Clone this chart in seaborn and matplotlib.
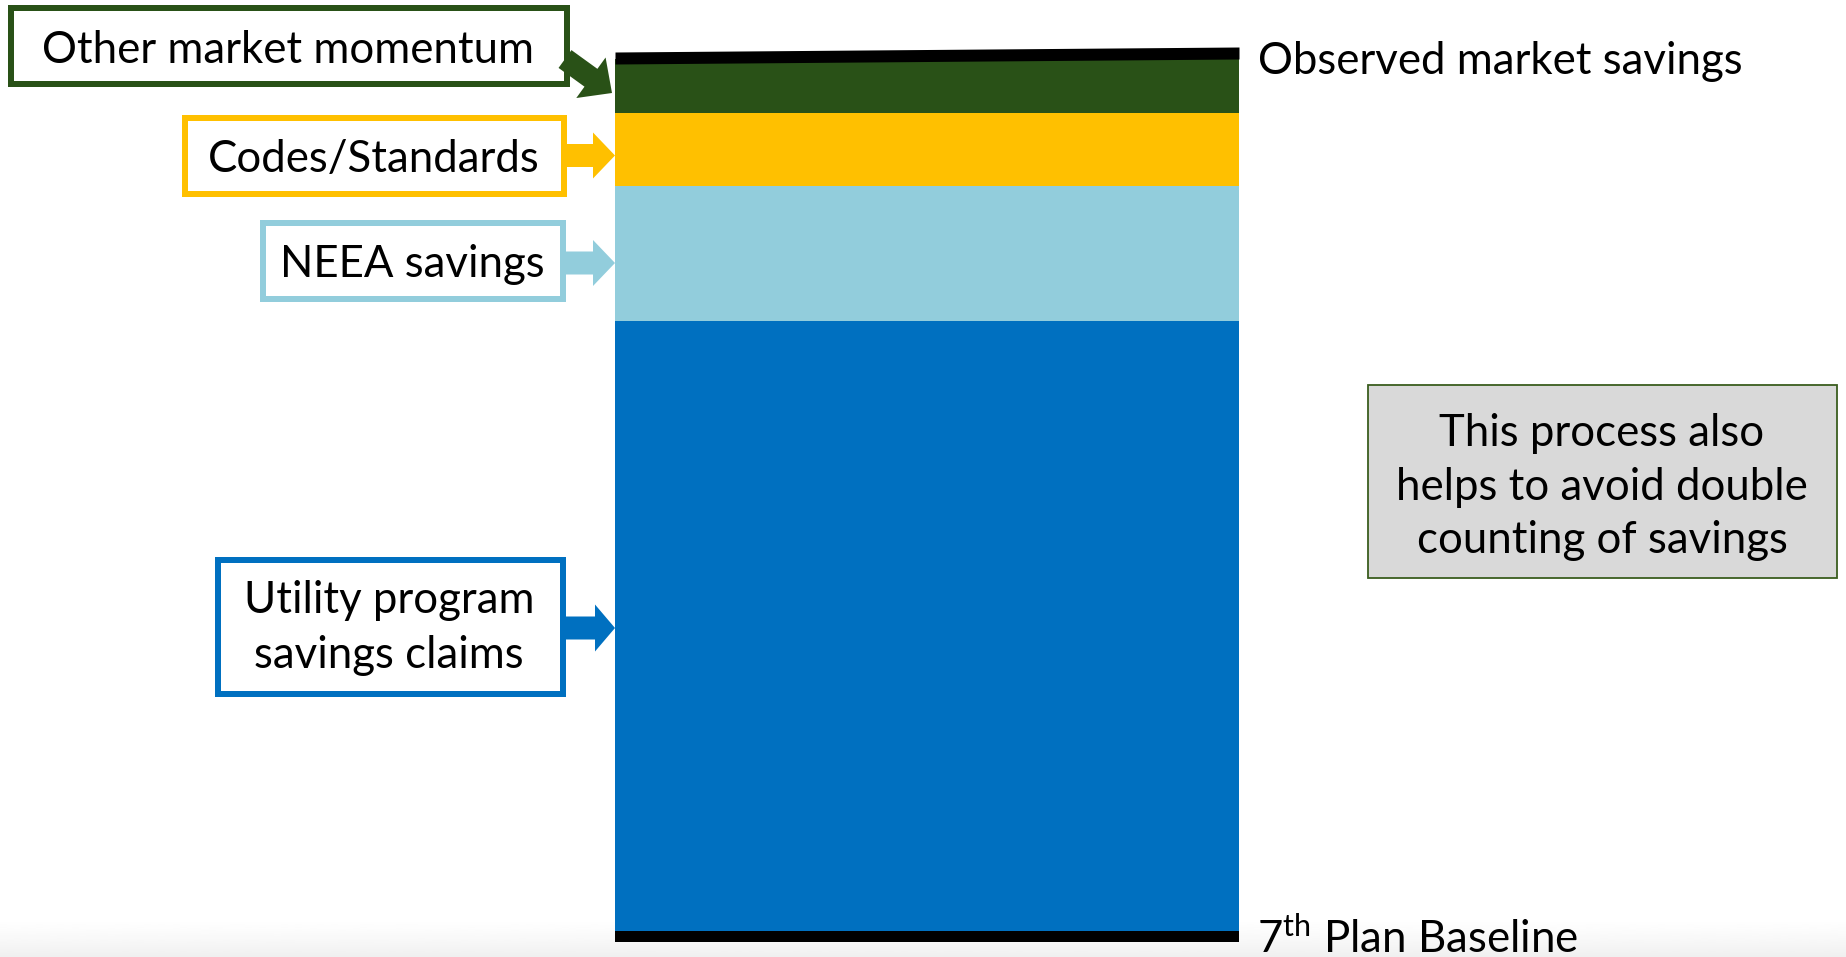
import numpy as np
import pandas as pd
import matplotlib
matplotlib.use("Agg")
import matplotlib.pyplot as plt
from matplotlib.patches import Rectangle, FancyArrow
import seaborn as sns

# Savings stack, bottom to top (arbitrary savings units)
segments = ["Utility program savings claims", "NEEA savings", "Codes/Standards", "Other market momentum"]
values = [61.0, 13.5, 7.3, 5.4]
colors = ["#0070C0", "#92CDDC", "#FFC000", "#295117"]

# Observed market savings line (left edge, right edge) and baseline level
observed = [87.3, 87.8]
baseline = 0.0

box_labels = [["Utility program", "savings claims"], ["NEEA savings"],
              ["Codes/Standards"], ["Other market momentum"]]
note_lines = ["This process also", "helps to avoid double", "counting of savings"]
top_label = "Observed market savings"
bottom_label = r"7$^{\mathrm{th}}$ Plan Baseline"

sns.set_theme(style="white")
plt.rcParams["font.family"] = ["Lato", "DejaVu Sans"]
plt.rcParams["mathtext.fontset"] = "custom"
plt.rcParams["mathtext.rm"] = "Lato"
plt.rcParams["mathtext.it"] = "Lato:italic"
plt.rcParams["mathtext.bf"] = "Lato:bold"

W, H = 1846, 957
fig = plt.figure(figsize=(W / 100, H / 100), dpi=100)

# background with a soft grey fade at the bottom edge
bg = fig.add_axes([0, 0, 1, 1])
bg.set_xlim(0, W)
bg.set_ylim(H, 0)
bg.axis("off")
grad = np.linspace(0, 1, 100)[:, None]
bg.imshow(1 - 0.06 * grad ** 1.3, cmap="gray", vmin=0, vmax=1,
          extent=[0, W, H, 918], aspect="auto")

# stacked bar: draw cumulative totals from the top segment down
ax = fig.add_axes([0, 0, 1, 1])
ax.patch.set_alpha(0)
cum = np.cumsum(values)
df = pd.DataFrame({"stack": ["savings"] * len(values), "segment": segments,
                   "top": cum})
for i in range(len(values) - 1, -1, -1):
    sns.barplot(data=df.iloc[[i]], x="stack", y="top", color=colors[i],
                saturation=1, width=1.0, linewidth=0, ax=ax)
ax.fill_between([-0.5, 0.5], [baseline - 1.15] * 2, [baseline] * 2,
                color="black", linewidth=0)
ax.fill_between([-0.5, 0.5], [v - 0.6 for v in observed],
                [v + 0.6 for v in observed], color="black", linewidth=0)
ax.set_xlim(-1.4856, 1.4728)
ax.set_ylim(-2.6, 93.1)
ax.axis("off")

# labels, boxes and arrows in pixel space
ov = fig.add_axes([0, 0, 1, 1])
ov.patch.set_alpha(0)
ov.set_xlim(0, W)
ov.set_ylim(H, 0)
ov.axis("off")

fs = 31.5
lw_px = 6
# outer box edges (x0, y0, x1, y1), text centre x, text baselines
box_geom = [
    ((215, 557, 566, 697), 389, [613, 668]),
    ((260, 220, 566, 302), 412, [277]),
    ((182, 115, 567, 197), 374, [172]),
    ((8, 5, 570, 87), 288, [63]),
]
for geom, lines, col in zip(box_geom, box_labels, colors):
    (x0, y0, x1, y1), cx, bls = geom
    h = lw_px / 2
    ov.add_patch(Rectangle((x0 + h, y0 + h), x1 - x0 - lw_px, y1 - y0 - lw_px,
                           facecolor="white", edgecolor=col,
                           linewidth=lw_px * 0.72, joinstyle="miter"))
    for line, bl in zip(lines, bls):
        ov.text(cx, bl, line, ha="center", va="baseline", fontsize=fs,
                color="black")

# block arrows from boxes into the bar:
# tail (x, y), tip (x, y), shaft width, head width, head length
arrow_geom = [
    ((563, 628), (615, 628), 23, 47, 20),
    ((563, 263), (615, 263), 23, 46, 22),
    ((564, 155.5), (615, 155.5), 23, 46, 22),
    ((565, 59), (612, 93), 22, 50, 26),
]
for geom, col in zip(arrow_geom, colors):
    (tx, ty), (hx, hy), sw, hw, hl = geom
    ov.add_patch(FancyArrow(tx, ty, hx - tx, hy - ty, width=sw,
                            head_width=hw, head_length=hl,
                            length_includes_head=True, color=col,
                            linewidth=0, zorder=3))

# side labels for the two reference lines
ov.text(1258, 73.6, top_label, ha="left", va="baseline", fontsize=fs,
        color="black")
ov.text(1257, 953, bottom_label, ha="left", va="baseline", fontsize=fs,
        color="black")

# note box on the right
ov.add_patch(Rectangle((1368, 385), 469, 193, facecolor="#D9D9D9",
                       edgecolor="#3A5D1E", linewidth=1.3))
for line, bl in zip(note_lines, [446, 500, 553]):
    ov.text(1602, bl, line, ha="center", va="baseline", fontsize=fs,
            color="black")

fig.savefig("out.png", dpi=100)
